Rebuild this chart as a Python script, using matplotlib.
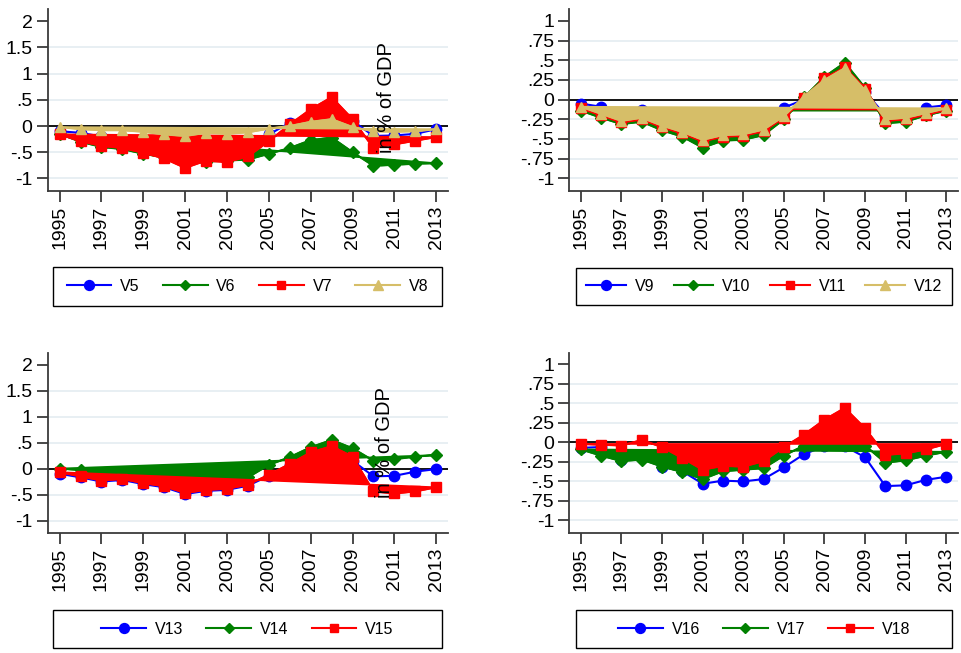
import matplotlib
matplotlib.use("Agg")
import matplotlib.pyplot as plt
from matplotlib.lines import Line2D
from matplotlib.patches import Rectangle

plt.rcParams['font.family'] = ['Liberation Sans', 'DejaVu Sans']

years = list(range(1995, 2014))
year_ticks = list(range(1995, 2014, 2))

# Panel 1 (top-left)
V5 = [-0.10, -0.13, -0.20, -0.25, -0.33, -0.40, -0.45, -0.40, -0.40, -0.33, -0.16, 0.06, 0.20, 0.30, 0.10, -0.19, -0.18, -0.15, -0.06]
V6 = [-0.15, -0.30, -0.40, -0.44, -0.53, -0.60, -0.72, -0.68, -0.66, -0.64, -0.53, -0.42, -0.27, -0.22, -0.50, -0.76, -0.74, -0.72, -0.71]
V7 = [-0.16, -0.29, -0.38, -0.42, -0.51, -0.62, -0.80, -0.66, -0.69, -0.58, -0.29, 0.03, 0.32, 0.55, 0.13, -0.42, -0.35, -0.28, -0.21]
V8 = [-0.02, -0.06, -0.08, -0.08, -0.11, -0.16, -0.19, -0.13, -0.15, -0.12, -0.05, 0.00, 0.08, 0.13, -0.02, -0.10, -0.11, -0.10, -0.06]

# Panel 2 (top-right)
V9 = [-0.05, -0.09, -0.20, -0.13, -0.25, -0.30, -0.40, -0.35, -0.35, -0.30, -0.10, 0.00, 0.20, 0.35, 0.10, -0.20, -0.20, -0.10, -0.07]
V10 = [-0.14, -0.23, -0.31, -0.28, -0.39, -0.47, -0.61, -0.52, -0.51, -0.45, -0.25, 0.03, 0.29, 0.47, 0.15, -0.30, -0.28, -0.20, -0.14]
V11 = [-0.11, -0.20, -0.29, -0.25, -0.35, -0.43, -0.53, -0.47, -0.46, -0.40, -0.23, 0.02, 0.27, 0.41, 0.14, -0.27, -0.25, -0.19, -0.13]
V12 = [-0.09, -0.18, -0.27, -0.23, -0.33, -0.41, -0.51, -0.45, -0.44, -0.38, -0.21, 0.04, 0.25, 0.40, 0.12, -0.25, -0.23, -0.17, -0.11]

# Panel 3 (bottom-left)
V13 = [-0.10, -0.17, -0.25, -0.22, -0.30, -0.36, -0.49, -0.43, -0.41, -0.33, -0.14, 0.07, 0.29, 0.41, 0.15, -0.15, -0.14, -0.06, -0.01]
V14 = [0.00, -0.03, -0.12, -0.15, -0.20, -0.25, -0.30, -0.28, -0.27, -0.17, 0.07, 0.22, 0.41, 0.55, 0.39, 0.15, 0.18, 0.23, 0.26]
V15 = [-0.07, -0.15, -0.23, -0.20, -0.28, -0.34, -0.47, -0.41, -0.39, -0.31, -0.12, 0.09, 0.31, 0.43, 0.23, -0.44, -0.48, -0.44, -0.36]

# Panel 4 (bottom-right)
V16 = [-0.07, -0.06, -0.22, -0.20, -0.31, -0.37, -0.53, -0.49, -0.50, -0.47, -0.32, -0.15, -0.05, -0.05, -0.19, -0.56, -0.55, -0.48, -0.44]
V17 = [-0.09, -0.17, -0.24, -0.22, -0.31, -0.38, -0.47, -0.37, -0.35, -0.33, -0.17, -0.04, -0.02, -0.02, -0.04, -0.26, -0.23, -0.17, -0.12]
V18 = [-0.02, -0.03, -0.04, 0.03, -0.06, -0.20, -0.35, -0.30, -0.31, -0.24, -0.06, 0.10, 0.29, 0.44, 0.18, -0.16, -0.14, -0.09, -0.02]

left_yticks = [-1, -0.5, 0, 0.5, 1, 1.5, 2]
left_ylabels = ["-1", "-.5", "0", ".5", "1", "1.5", "2"]
right_yticks = [-1, -0.75, -0.5, -0.25, 0, 0.25, 0.5, 0.75, 1]
right_ylabels = ["-1", "-.75", "-.5", "-.25", "0", ".25", ".5", ".75", "1"]

BLUE = "#0000ff"
GREEN = "#008000"
RED = "#ff0000"
TAN = "#d6be68"
GRID = "#e6eef2"
AXC = "#3a3a3a"

styles = {
    BLUE: ("o", 7.5),
    GREEN: ("D", 5.8),
    RED: ("s", 6.5),
    TAN: ("^", 7.5),
}

fig = plt.figure(figsize=(9.61, 6.53), dpi=100)

ax_pos = {
    "tl": [0.0496, 0.708, 0.4170, 0.2778],
    "tr": [0.5924, 0.708, 0.4045, 0.2778],
    "bl": [0.0496, 0.1842, 0.4170, 0.2757],
    "br": [0.5924, 0.1842, 0.4045, 0.2757],
}


def draw_panel(key, series, colors, filled, yticks, ylabels, ylim):
    ax = fig.add_axes(ax_pos[key])
    ax.set_xlim(1994.43, 2013.58)
    ax.set_ylim(*ylim)
    for t in yticks[:-1]:
        if t != 0:
            ax.axhline(t, color=GRID, lw=1.3, zorder=0)
    ax.axhline(0, color="black", lw=1.3, zorder=1)
    for i, (vals, c, f) in enumerate(zip(series, colors, filled)):
        z = 3 + i
        m, ms = styles[c]
        if f:
            ax.fill(years, vals, facecolor=c, edgecolor=c, lw=1.2, zorder=z)
        ax.plot(years, vals, color=c, lw=1.5, marker=m, ms=ms, mec=c, mfc=c, zorder=z)
    ax.set_yticks(yticks)
    ax.set_yticklabels(ylabels, fontsize=14)
    ax.set_xticks(year_ticks)
    ax.set_xticklabels([str(y) for y in year_ticks], rotation=90, fontsize=14)
    for s in ["top", "right"]:
        ax.spines[s].set_visible(False)
    for s in ["left", "bottom"]:
        ax.spines[s].set_color(AXC)
        ax.spines[s].set_linewidth(1.3)
    ax.tick_params(axis="both", color=AXC, width=1.3, length=8, pad=3)
    return ax


def draw_legend(box, names, colors, hl, colsp):
    x0, y0, w, h = box
    fig.patches.append(Rectangle((x0, y0), w, h, transform=fig.transFigure,
                                 facecolor="white", edgecolor="black", lw=1.0, zorder=5))
    handles = [Line2D([], [], color=c, lw=1.5, marker=styles[c][0], ms=styles[c][1] * 0.95,
                      mec=c, mfc=c) for c in colors]
    leg = fig.legend(handles, names, loc="center", bbox_to_anchor=(x0 + w / 2, y0 + h / 2),
                     ncol=len(names), frameon=False, fontsize=11.5, handlelength=hl,
                     handletextpad=0.55, columnspacing=colsp, borderpad=0.2, borderaxespad=0)
    leg.set_zorder(6)


lims_left = (-1.235, 2.23)
lims_right = (-1.157, 1.149)

draw_panel("tl", [V5, V6, V7, V8], [BLUE, GREEN, RED, TAN],
           [False, True, True, True], left_yticks, left_ylabels, lims_left)
draw_panel("tr", [V9, V10, V11, V12], [BLUE, GREEN, RED, TAN],
           [False, True, True, True], right_yticks, right_ylabels, lims_right)
draw_panel("bl", [V13, V14, V15], [BLUE, GREEN, RED],
           [False, True, True], left_yticks, left_ylabels, lims_left)
draw_panel("br", [V16, V17, V18], [BLUE, GREEN, RED],
           [False, True, True], right_yticks, right_ylabels, lims_right)

draw_legend([53 / 961, 1 - 306 / 653, 389 / 961, 39 / 653], ["V5", "V6", "V7", "V8"],
            [BLUE, GREEN, RED, TAN], 2.8, 1.45)
draw_legend([576 / 961, 1 - 305 / 653, 376 / 961, 37.5 / 653], ["V9", "V10", "V11", "V12"],
            [BLUE, GREEN, RED, TAN], 2.5, 1.2)
draw_legend([53 / 961, 1 - 648 / 653, 389 / 961, 38 / 653], ["V13", "V14", "V15"],
            [BLUE, GREEN, RED], 2.8, 1.45)
draw_legend([576 / 961, 1 - 648 / 653, 376 / 961, 38 / 653], ["V16", "V17", "V18"],
            [BLUE, GREEN, RED], 2.8, 1.45)

fig.text(386 / 961, 1 - 98 / 653, "in % of GDP", rotation=90, ha="center", va="center", fontsize=14.5)
fig.text(385 / 961, 1 - 443 / 653, "in % of GDP", rotation=90, ha="center", va="center", fontsize=14.5)

fig.savefig("out.png", dpi=100)
